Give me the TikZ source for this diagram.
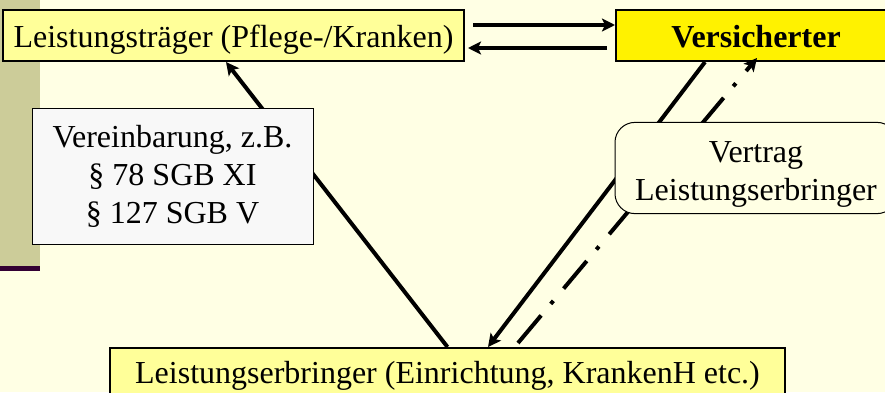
\documentclass[tikz,border=0pt]{standalone}
\usepackage{fontspec}
\setmainfont{Liberation Serif}
\usepackage{tikz}
\usetikzlibrary{arrows.meta}

\definecolor{bgcream}{RGB}{255,255,228}
\definecolor{khaki}{RGB}{204,204,153}
\definecolor{darkplum}{RGB}{51,0,51}
\definecolor{paleyellow}{RGB}{255,255,153}
\definecolor{lightgrey}{RGB}{248,248,248}

\begin{document}
\begin{tikzpicture}[x=0.5pt,y=-0.5pt,font=\fontsize{16}{19}\selectfont,
  box/.style={draw,line width=1pt,fill=paleyellow,inner xsep=5pt,inner ysep=0pt,text height=15pt,text depth=3.5pt},
  note/.style={draw,line width=0.5pt,align=center},
  conn/.style={line width=2pt,-{Stealth[length=6.5pt,width=6.5pt,inset=1.5pt]}}]
\useasboundingbox (0,0) rectangle (885,392);
\clip (0,0) rectangle (885,392);
\fill[bgcream] (0,0) rectangle (885,392);
\fill[khaki] (0,0) rectangle (40,266);
\fill[darkplum] (0,266) rectangle (40,271);

\node[box,minimum width=230.5pt,minimum height=25.5pt] (traeger) at (233.5,35.5) {Leistungsträger (Pflege-/Kranken)};
\node[box,fill=yellow,minimum width=140pt,minimum height=25.5pt] (versich) at (756,35.5) {\bfseries Versicherter};
\node[box,minimum width=337.5pt,minimum height=23.5pt] (erbr) at (447.5,371.5) {Leistungserbringer (Einrichtung, KrankenH etc.)};

\draw[conn] ([xshift=4pt,yshift=5.25pt]traeger.east) -- ([yshift=5.25pt]versich.west);
\draw[conn] ([xshift=-4pt,yshift=-6.25pt]versich.west) -- ([xshift=1.5pt,yshift=-6.25pt]traeger.east);
\draw[conn] (erbr.north) -- ([xshift=-3.75pt]traeger.south);
\draw[conn] ([xshift=-25.5pt]versich.south) -- ([xshift=20.25pt]erbr.north);
\draw[conn,dash pattern=on 18pt off 7.5pt on 2pt off 8pt] ([xshift=35.25pt,yshift=2pt]erbr.north) -- ([xshift=0.5pt,yshift=2pt]versich.south);

\node[note,fill=lightgrey,minimum width=140.5pt,minimum height=68pt] (vereinb) at (172.5,176) {Vereinbarung, z.B.\\§ 78 SGB XI\\§ 127 SGB V};
\node[note,fill=bgcream,rounded corners=10pt,minimum width=141pt,minimum height=44pt] (vertrag) at (756,168) {\rule{0pt}{16.5pt}Vertrag\\Leistungserbringer};
\end{tikzpicture}
\end{document}
